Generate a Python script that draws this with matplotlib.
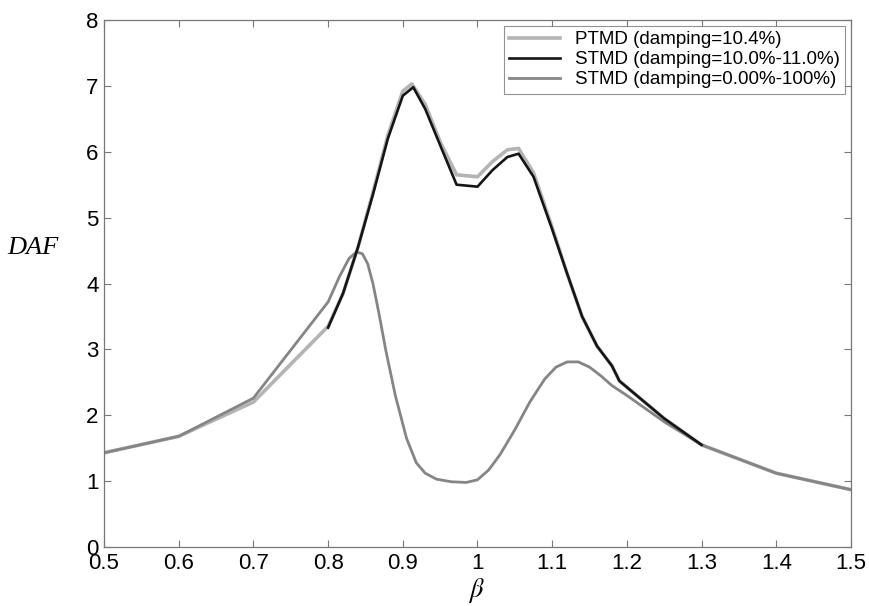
import numpy as np
import matplotlib.pyplot as plt

plt.rcParams['font.family'] = 'Liberation Sans'
plt.rcParams['mathtext.fontset'] = 'stix'

# PTMD (damping=10.4%)
ptmd_x = np.array([0.5, 0.6, 0.7, 0.8, 0.82, 0.84, 0.86, 0.88, 0.9, 0.912, 0.93, 0.95, 0.972,
                   1.0, 1.02, 1.04, 1.055, 1.075, 1.1, 1.12, 1.14, 1.16, 1.18, 1.19, 1.25, 1.3, 1.4, 1.5])
ptmd_y = np.array([1.43, 1.68, 2.2, 3.35, 3.85, 4.55, 5.38, 6.25, 6.92, 7.03, 6.72, 6.15, 5.65,
                   5.62, 5.85, 6.03, 6.05, 5.68, 4.85, 4.15, 3.5, 3.05, 2.75, 2.52, 1.95, 1.55, 1.12, 0.87])

# STMD (damping=10.0%-11.0%)
stmd1_x = np.array([0.8, 0.82, 0.84, 0.86, 0.88, 0.9, 0.914, 0.93, 0.95, 0.972, 1.0, 1.02, 1.04,
                    1.055, 1.075, 1.1, 1.12, 1.14, 1.16, 1.18, 1.19, 1.25, 1.3])
stmd1_y = np.array([3.33, 3.85, 4.55, 5.35, 6.2, 6.85, 6.98, 6.65, 6.1, 5.5, 5.47, 5.72, 5.92,
                    5.97, 5.62, 4.82, 4.15, 3.5, 3.05, 2.75, 2.52, 1.95, 1.55])

# STMD (damping=0.00%-100%)
stmd2_x = np.array([0.5, 0.6, 0.7, 0.8, 0.815, 0.828, 0.838, 0.846, 0.853, 0.86, 0.868, 0.877,
                    0.89, 0.905, 0.918, 0.93, 0.945, 0.965, 0.985, 1.0, 1.015, 1.03, 1.05,
                    1.07, 1.09, 1.105, 1.12, 1.135, 1.15, 1.165, 1.18, 1.2, 1.25, 1.3, 1.4, 1.5])
stmd2_y = np.array([1.43, 1.68, 2.26, 3.72, 4.1, 4.38, 4.48, 4.45, 4.3, 4.0, 3.55, 3.0,
                    2.3, 1.65, 1.28, 1.12, 1.03, 0.99, 0.98, 1.02, 1.17, 1.4, 1.78,
                    2.2, 2.55, 2.73, 2.81, 2.81, 2.73, 2.6, 2.45, 2.3, 1.9, 1.55, 1.12, 0.87])

fig = plt.figure(figsize=(8.69, 6.06), dpi=100)
ax = fig.add_axes([104/869, 1-547/606, 747/869, 527/606])

ax.plot(ptmd_x, ptmd_y, color='#b4b4b4', lw=2.6, label='PTMD (damping=10.4%)', zorder=1)
ax.plot(stmd1_x, stmd1_y, color='#151515', lw=1.9, label='STMD (damping=10.0%-11.0%)', zorder=3)
ax.plot(stmd2_x, stmd2_y, color='#858585', lw=2.0, label='STMD (damping=0.00%-100%)', zorder=2)

ax.set_xlim(0.5, 1.5)
ax.set_ylim(0, 8)
ax.set_xticks(np.arange(0.5, 1.51, 0.1))
ax.set_xticklabels(['0.5', '0.6', '0.7', '0.8', '0.9', '1', '1.1', '1.2', '1.3', '1.4', '1.5'])
ax.set_yticks(range(0, 9))

for s in ax.spines.values():
    s.set_color('#777777')
    s.set_linewidth(0.9)
ax.tick_params(direction='in', length=5, width=0.8, color='#777777',
               top=True, right=True, labelsize=16, pad=4)

ax.set_ylabel('DAF', family='Liberation Serif', style='italic', fontsize=19,
              rotation=0, va='center', ha='center')
ax.yaxis.set_label_coords(-0.095, 0.567)
ax.set_xlabel(r'$\beta$', fontsize=19, va='center')
ax.xaxis.set_label_coords(0.499, -0.082)

leg = ax.legend(loc='upper right', fontsize=13.5, frameon=True, fancybox=False,
                edgecolor='#777777', borderaxespad=0.3, handlelength=2.7,
                labelspacing=0.15, borderpad=0.3, handletextpad=0.8)
leg.get_frame().set_linewidth(0.8)

fig.savefig('out.png', dpi=100)
